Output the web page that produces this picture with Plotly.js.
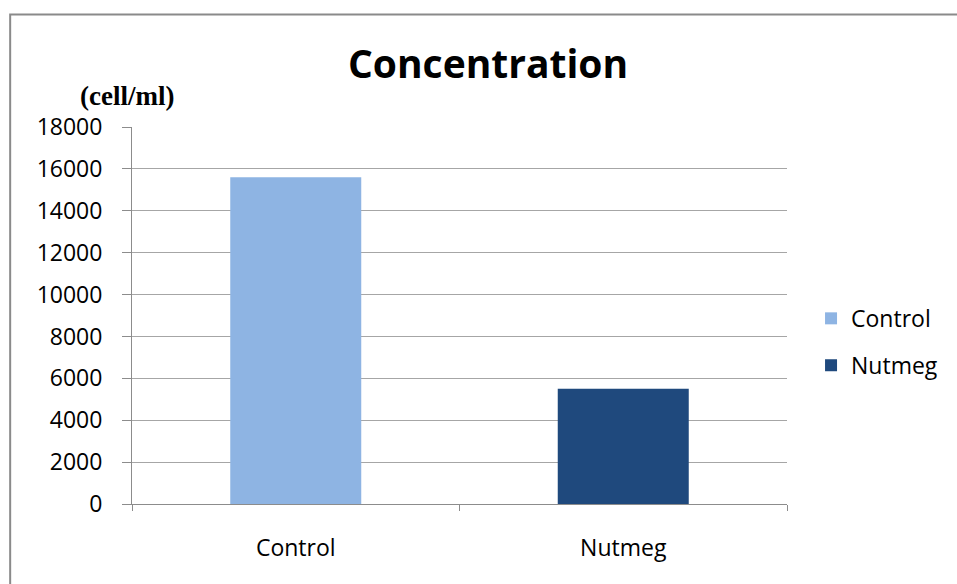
<!DOCTYPE html>
<html>
<head>
<meta charset="utf-8">
<script src="https://cdn.plot.ly/plotly-3.0.1.min.js"></script>
<style>html,body{margin:0;padding:0;background:#fff;}#chart{width:957px;height:584px;}</style>
</head>
<body>
<div id="chart"></div>
<script>
const categories = ["Control", "Nutmeg"];
const seriesNames = ["Control", "Nutmeg"];
const values = [15600, 5500];
const colors = ["#8EB4E3", "#1F497D"];
const yTickVals = [0, 2000, 4000, 6000, 8000, 10000, 12000, 14000, 16000, 18000];

const FONT = "Open Sans, Liberation Sans, sans-serif";
const traces = seriesNames.map((name, i) => ({
  type: "bar",
  name: name,
  x: [categories[i]],
  y: [values[i]],
  marker: {color: colors[i]},
  legendgroup: "g" + i,
  hoverinfo: "none"
}));

const layout = {
  width: 957, height: 584,
  margin: {l: 132, r: 170, t: 127, b: 80},
  paper_bgcolor: "#fff", plot_bgcolor: "#fff",
  barmode: "relative",
  bargap: 0.6,
  font: {family: FONT, size: 23, color: "#000"},
  title: {
    text: "<b>Concentration</b>",
    font: {family: FONT, size: 39, color: "#000"},
    x: 0.51, xref: "container", xanchor: "center",
    y: 0.889, yref: "container", yanchor: "middle"
  },
  xaxis: {
    type: "category",
    categoryarray: categories,
    showline: true, linecolor: "#8c8c8c", linewidth: 1,
    ticks: "outside", ticklen: 6, tickcolor: "#8c8c8c",
    tickson: "boundaries",
    ticklabelstandoff: 23,
    showgrid: false, zeroline: false,
    fixedrange: true
  },
  yaxis: {
    range: [0, 18000],
    tickvals: yTickVals,
    ticktext: yTickVals.map(String),
    showline: true, linecolor: "#8c8c8c", linewidth: 1,
    ticks: "outside", ticklen: 9, tickcolor: "#8c8c8c",
    ticklabelstandoff: 15,
    showgrid: true, gridcolor: "#a6a6a6", gridwidth: 1,
    zeroline: false,
    fixedrange: true
  },
  legend: {
    x: 1.0367, xanchor: "left",
    y: 0.43, yanchor: "middle",
    font: {family: FONT, size: 23, color: "#000"},
    tracegroupgap: 14,
    itemclick: false, itemdoubleclick: false
  },
  shapes: [{
    type: "rect", xref: "paper", yref: "paper",
    x0: -0.186, x1: 2, y0: -1, y1: 1.2984,
    line: {color: "#8a8a8a", width: 2}, fillcolor: "rgba(0,0,0,0)", layer: "below"
  }],
  annotations: [{
    text: "<b>(cell/ml)</b>",
    xref: "paper", yref: "paper",
    x: -0.0076, y: 1.082, xanchor: "center", yanchor: "middle",
    showarrow: false,
    font: {family: "Liberation Serif, Times New Roman, serif", size: 27, color: "#000"}
  }]
};

Plotly.newPlot("chart", traces, layout, {displayModeBar: false, staticPlot: true});
</script>
</body>
</html>
